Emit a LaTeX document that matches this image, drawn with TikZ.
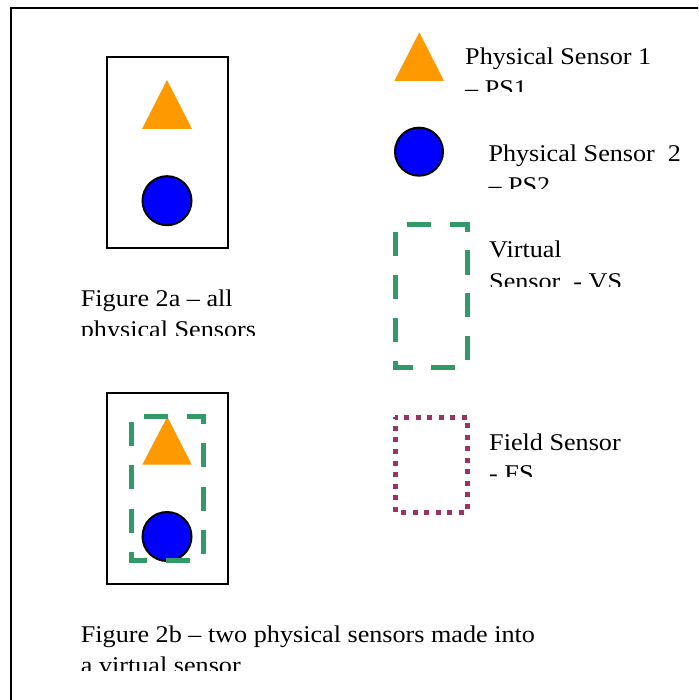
\documentclass[tikz,border=0pt]{standalone}
\usepackage{fontspec}
\setmainfont{Liberation Serif}[FakeStretch=1.09]
\definecolor{vsgreen}{HTML}{339966}
\definecolor{fsplum}{HTML}{993366}
\definecolor{psorange}{HTML}{FF9900}
\definecolor{psblue}{HTML}{0000FF}
\tikzset{
  txt/.style={anchor=base west, align=left, inner sep=0pt, font=\fontsize{24}{31.5}\selectfont},
  boxline/.style={draw=black, line width=2pt},
  tri/.style={fill=psorange},
  ball/.style={fill=psblue, draw=black, line width=2pt},
  vsline/.style={draw=vsgreen, line width=5pt},
  fsline/.style={draw=fsplum, line width=5pt, dash pattern=on 5pt off 6.52pt, dash phase=2.5pt}
}
\begin{document}
\begin{tikzpicture}[x=1pt,y=-1pt]
\useasboundingbox (0,0) rectangle (698,700);
\clip (0,0) rectangle (698,700);
\fill[white] (0,0) rectangle (698,700);
% outer border
\draw[line width=2pt] (11,8) rectangle (720,720);
% Figure 2a box
\draw[boxline] (107,57) rectangle (228,248);
\fill[tri] (167,80) -- (192,129) -- (142,129) -- cycle;
\draw[ball] (167,200.7) circle[radius=24.5];
% Figure 2b box
\draw[boxline] (107,393) rectangle (228,584);
\fill[tri] (167.3,416.7) -- (191.7,464.7) -- (142.3,464.7) -- cycle;
\draw[ball] (167,536.5) circle[radius=24.5];
\draw[vsline, dash pattern=on 24pt off 19.2pt, dash phase=30.2pt] (131,416) -- (203,416) -- (203,560) -- (131,560) -- cycle;
% legend shapes
\fill[tri] (419.3,32.3) -- (444,81) -- (394.3,81) -- cycle;
\draw[ball] (419,151.7) circle[radius=24];
\draw[vsline, dash pattern=on 24pt off 18.9pt, dash phase=30.9pt] (395,225) -- (467.3,225) -- (467.3,367.3) -- (395,367.3) -- cycle;
\draw[fsline] (395,417) -- (467,417) -- (467,512) -- (395,512) -- cycle;
% texts (clipped like the original text boxes); anchor = baseline of the last line
\begin{scope}
\clip (455,20) rectangle (698,91.7);
\node[txt] (ps1) at (465,96.5) {Physical Sensor 1\\– PS1};
\end{scope}
\begin{scope}
\clip (478,120) rectangle (698,188.3);
\node[txt] (ps2) at (488.3,193.2) {Physical Sensor~ 2\\– PS2};
\end{scope}
\begin{scope}
\clip (479,220) rectangle (698,286);
\node[txt] (vs) at (489,289.2) {Virtual\\Sensor~ - VS};
\end{scope}
\begin{scope}
\clip (479,420) rectangle (698,476.7);
\node[txt] (fs) at (489,481.5) {Field Sensor\\- FS};
\end{scope}
\begin{scope}
\clip (70,270) rectangle (400,335);
\node[txt] (fig2a) at (80.7,337.5) {Figure 2a – all\\physical Sensors};
\end{scope}
\begin{scope}
\clip (70,605) rectangle (698,670);
\node[txt] (fig2b) at (80.7,673.8) {Figure 2b – two physical sensors made into\\a virtual sensor};
\end{scope}
\end{tikzpicture}
\end{document}
